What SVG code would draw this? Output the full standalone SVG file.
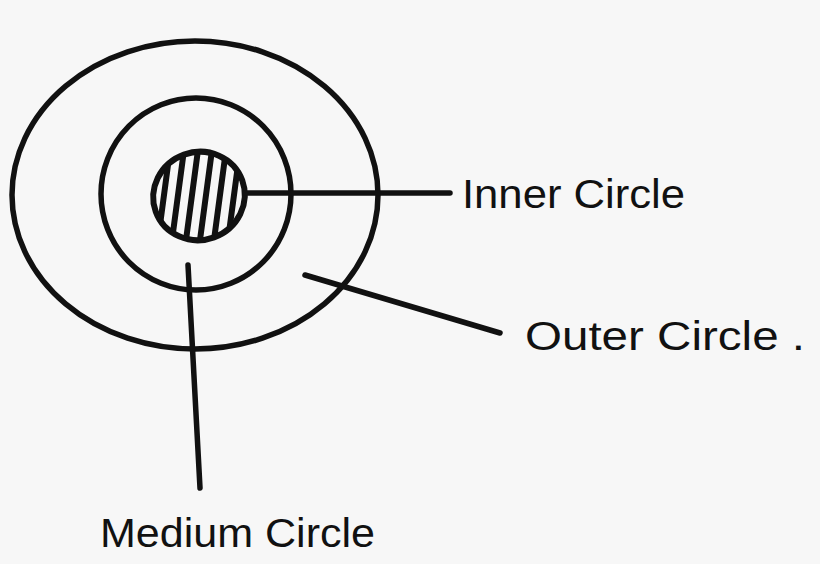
<svg xmlns="http://www.w3.org/2000/svg" width="820" height="564" viewBox="0 0 820 564">
<style>
.s{fill:none;stroke:#111;stroke-width:5.5;stroke-linecap:round;stroke-linejoin:round}
.h{stroke-width:6}
.t{font-family:"Liberation Sans",Arial,sans-serif;font-size:40px;fill:#111}
</style>
<defs>
<clipPath id="ic"><ellipse cx="199" cy="196" rx="44" ry="42" transform="rotate(-20 199 196)"/></clipPath>
</defs>
<rect width="820" height="564" fill="#f7f7f7"/>
<g id="outer"><ellipse class="s" cx="195" cy="195" rx="183" ry="154"/></g>
<g id="medium"><ellipse class="s" cx="196" cy="194" rx="95" ry="96"/></g>
<g id="inner">
<ellipse class="s h" cx="199" cy="196" rx="46" ry="44" transform="rotate(-20 199 196)"/>
<g clip-path="url(#ic)" class="s h">
<line x1="158" y1="240" x2="170" y2="150"/>
<line x1="172" y1="240" x2="184" y2="150"/>
<line x1="186" y1="240" x2="198" y2="150"/>
<line x1="200" y1="240" x2="212" y2="150"/>
<line x1="214" y1="240" x2="226" y2="150"/>
<line x1="228" y1="240" x2="240" y2="150"/>
</g>
</g>
<g id="connectors" class="s">
<line x1="245" y1="193" x2="450" y2="193"/>
<line x1="305" y1="275" x2="500" y2="333"/>
<line x1="188" y1="265" x2="200" y2="488"/>
</g>
<g id="labels">
<text class="t" x="462" y="208" textLength="223" lengthAdjust="spacingAndGlyphs">Inner Circle</text>
<text class="t" x="525" y="350" textLength="280" lengthAdjust="spacingAndGlyphs">Outer Circle .</text>
<text class="t" x="100" y="547" textLength="275" lengthAdjust="spacingAndGlyphs">Medium Circle</text>
</g>
</svg>
